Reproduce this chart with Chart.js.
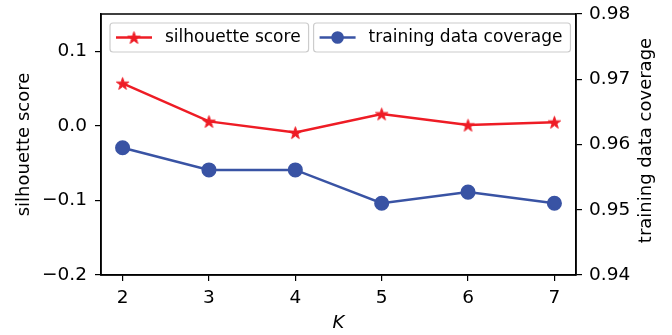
<!DOCTYPE html>
<html>
<head>
<meta charset="utf-8">
<script src="https://cdn.jsdelivr.net/npm/chart.js@4"></script>
<style>
  html, body { margin: 0; padding: 0; background: #fff; }
  #wrap { width: 672px; height: 335px; }
</style>
</head>
<body>
<div id="wrap"><canvas id="chart" width="672" height="335"></canvas></div>
<script>
// values
const K = [2, 3, 4, 5, 6, 7];
const silhouette = [0.057, 0.006, -0.009, 0.016, 0.001, 0.005];
const coverage = [0.9595, 0.9561, 0.9561, 0.9510, 0.9527, 0.9510];
const kTicks = [2, 3, 4, 5, 6, 7];
const leftTicks = [-0.2, -0.1, 0.0, 0.1];
const rightTicks = [0.94, 0.95, 0.96, 0.97, 0.98];

const RED = '#ee1c25';
const BLUE = '#3953a4';
const FONT = 'DejaVu Sans';

// filled 5 point star, like matplotlib's '*'
function starImage(r, color) {
    const c = document.createElement('canvas');
    const s = Math.ceil(r * 2 + 2);
    c.width = s; c.height = s;
    const g = c.getContext('2d');
    g.translate(s / 2, s / 2 + r * 0.1);
    g.beginPath();
    for (let i = 0; i < 10; i++) {
        const rad = i % 2 === 0 ? r : r * 0.382;
        const a = -Math.PI / 2 + i * Math.PI / 5;
        g.lineTo(rad * Math.cos(a), rad * Math.sin(a));
    }
    g.closePath();
    g.fillStyle = color;
    g.fill();
    g.lineWidth = 1;
    g.strokeStyle = color;
    g.stroke();
    return c;
}
const star = starImage(6.5, RED);

const frame = {
    id: 'frame',
    afterDatasetsDraw(chart) {
        const { ctx, chartArea: a } = chart;
        ctx.save();
        ctx.strokeStyle = '#000';
        ctx.lineWidth = 1.5;
        ctx.strokeRect(a.left, a.top, a.right - a.left, a.bottom - a.top);

        // right axis title reads bottom to top, like the left one
        ctx.save();
        ctx.translate(646, (a.top + a.bottom) / 2 - 4);
        ctx.rotate(-Math.PI / 2);
        ctx.font = '18px "' + FONT + '"';
        ctx.fillStyle = '#000';
        ctx.textAlign = 'center';
        ctx.textBaseline = 'middle';
        ctx.fillText('training data coverage', 0, 0);
        ctx.restore();

        // two legend boxes side by side, as in the figure
        ctx.font = '17px "' + FONT + '"';
        ctx.textBaseline = 'middle';
        const items = [
            { label: 'silhouette score', color: RED, marker: 'star' },
            { label: 'training data coverage', color: BLUE, marker: 'circle' }
        ];
        let x = a.left + 9;
        const top = a.top + 9, h = 29, cy = top + h / 2;
        items.forEach(it => {
            const tw = ctx.measureText(it.label).width;
            const w = 6 + 36 + 13 + tw + 8;
            ctx.beginPath();
            ctx.roundRect(x, top, w, h, 3);
            ctx.fillStyle = 'rgba(255,255,255,0.8)';
            ctx.fill();
            ctx.strokeStyle = '#cccccc';
            ctx.lineWidth = 1.2;
            ctx.stroke();

            ctx.strokeStyle = it.color;
            ctx.lineWidth = 2.5;
            ctx.beginPath();
            ctx.moveTo(x + 6, cy);
            ctx.lineTo(x + 42, cy);
            ctx.stroke();
            if (it.marker === 'star') {
                ctx.drawImage(star, x + 24 - star.width / 2, cy - star.height / 2);
            } else {
                ctx.fillStyle = it.color;
                ctx.beginPath();
                ctx.arc(x + 24, cy, 6.3, 0, Math.PI * 2);
                ctx.fill();
            }
            ctx.fillStyle = '#000';
            ctx.fillText(it.label, x + 55, cy);
            x += w + 5;
        });
        ctx.restore();
    }
};

const tickFont = { family: FONT, size: 18.5 };

new Chart(document.getElementById('chart'), {
    type: 'line',
    data: {
        datasets: [{
            label: 'silhouette score',
            data: K.map((k, i) => ({ x: k, y: silhouette[i] })),
            borderColor: RED,
            backgroundColor: RED,
            borderWidth: 2.5,
            pointStyle: star,
            yAxisID: 'y'
        }, {
            label: 'training data coverage',
            data: K.map((k, i) => ({ x: k, y: coverage[i] })),
            borderColor: BLUE,
            backgroundColor: BLUE,
            borderWidth: 2.5,
            pointStyle: 'circle',
            pointRadius: 6.3,
            pointHoverRadius: 6.3,
            yAxisID: 'y1'
        }]
    },
    options: {
        responsive: false,
        animation: false,
        layout: { padding: { top: 14, left: 0, right: 0, bottom: 0 } },
        plugins: { legend: { display: false }, tooltip: { enabled: false } },
        scales: {
            x: {
                type: 'linear',
                min: 1.75,
                max: 7.25,
                afterBuildTicks: s => { s.ticks = kTicks.map(v => ({ value: v })); },
                afterFit: s => { s.height = 60; s.paddingLeft = 0; s.paddingRight = 0; },
                grid: { drawOnChartArea: false, tickLength: 6, color: '#000', lineWidth: 1.2 },
                border: { color: '#000', width: 1.5 },
                ticks: { font: tickFont, color: '#000', padding: 6, maxRotation: 0 },
                title: { display: true, text: 'K', color: '#000',
                    font: { family: FONT, size: 18, style: 'italic' }, padding: { top: 0, bottom: 1 } }
            },
            y: {
                position: 'left',
                min: -0.2,
                max: 0.15,
                afterBuildTicks: s => { s.ticks = leftTicks.map(v => ({ value: v })); },
                afterFit: s => { s.width = 101; s.paddingTop = 0; s.paddingBottom = 0; },
                grid: { drawOnChartArea: false, tickLength: 6, color: '#000', lineWidth: 1.2 },
                border: { color: '#000', width: 1.5 },
                ticks: { font: tickFont, color: '#000', padding: 8,
                    callback: v => v.toFixed(1).replace('-', '\u2212') },
                title: { display: true, text: 'silhouette score', color: '#000',
                    font: { family: FONT, size: 18 }, padding: { top: 14, bottom: 0 } }
            },
            y1: {
                position: 'right',
                min: 0.94,
                max: 0.98,
                afterBuildTicks: s => { s.ticks = rightTicks.map(v => ({ value: v })); },
                afterFit: s => { s.width = 96; s.paddingTop = 0; s.paddingBottom = 0; },
                grid: { drawOnChartArea: false, tickLength: 6, color: '#000', lineWidth: 1.2 },
                border: { color: '#000', width: 1.5 },
                ticks: { font: tickFont, color: '#000', padding: 7,
                    callback: v => v.toFixed(2) }
            }
        }
    },
    plugins: [frame]
});
</script>
</body>
</html>
